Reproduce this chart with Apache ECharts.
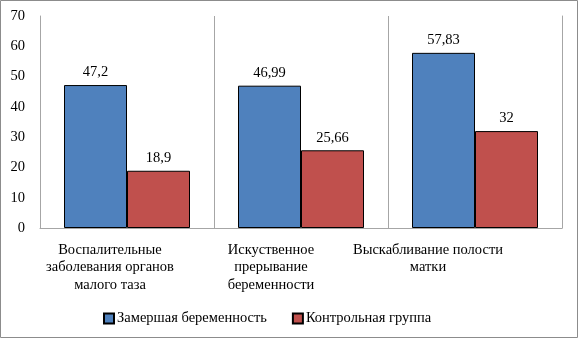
<!DOCTYPE html>
<html>
<head>
<meta charset="utf-8">
<script src="https://cdn.jsdelivr.net/npm/echarts@6/dist/echarts.min.js"></script>
<style>
  html, body { margin: 0; padding: 0; background: #fff; }
  #chart { width: 578px; height: 338px; }
</style>
</head>
<body>
<div id="chart"></div>
<script>
var categories = [
    'Воспалительные\nзаболевания органов\nмалого таза',
    'Искуственное\nпрерывание\nбеременности',
    'Выскабливание полости\nматки'
];
var seriesNames = ['Замершая беременность', 'Контрольная группа'];
var frozenValues = [47.2, 46.99, 57.83];
var controlValues = [18.9, 25.66, 32];

var font = '"Liberation Serif", "Times New Roman", serif';
var fs = 14.5;
// Excel pushed the wrapped labels a little to the left, more for each category
var labelShift = [34, 60, 94];

var myChart = echarts.init(document.getElementById('chart'), null, { renderer: 'canvas' });

var rich = {};
for (var i = 0; i < labelShift.length; i++) {
    rich['c' + i] = {
        fontFamily: font, fontSize: fs, color: '#000', lineHeight: 17.5,
        padding: [0, labelShift[i], 0, 0]
    };
}

function commaLabel(p) {
    return String(p.value).replace('.', ',');
}

var option = {
    animation: false,
    textStyle: { fontFamily: font },
    graphic: [{
        type: 'rect',
        shape: { x: 0.5, y: 0.5, width: 577, height: 337 },
        style: { fill: 'none', stroke: '#8c8c8c', lineWidth: 1 },
        silent: true
    }],
    grid: { left: 40, right: 16, top: 16, bottom: 110, containLabel: false, outerBoundsMode: 'none' },
    legend: {
        top: 306,
        left: 98,
        itemWidth: 10,
        itemHeight: 10,
        itemGap: 25,
        icon: 'rect',
        textStyle: { fontFamily: font, fontSize: fs, color: '#000', padding: [0, 0, 0, -2] },
        data: seriesNames
    },
    xAxis: {
        type: 'category',
        data: categories,
        axisLine: { lineStyle: { color: '#a6a6a6', width: 1 } },
        axisTick: { show: false },
        splitLine: { show: true, lineStyle: { color: '#a6a6a6', width: 1 } },
        axisLabel: {
            interval: 0,
            margin: 13,
            hideOverlap: false,
            formatter: function (val, idx) {
                return val.split('\n').map(function (s) {
                    return '{c' + idx + '|' + s + '}';
                }).join('\n');
            },
            rich: rich
        }
    },
    yAxis: [
        {
            type: 'value',
            min: 0,
            max: 70,
            interval: 10,
            axisLine: { show: true, lineStyle: { color: '#a6a6a6', width: 1 } },
            axisTick: { show: false },
            splitLine: { show: false },
            axisLabel: { fontFamily: font, fontSize: fs, color: '#000', margin: 15 }
        },
        {
            // right edge line of the plot area
            type: 'value',
            position: 'right',
            min: 0,
            max: 70,
            interval: 10,
            axisLine: { show: true, lineStyle: { color: '#a6a6a6', width: 1 } },
            axisTick: { show: false },
            axisLabel: { show: false },
            splitLine: { show: false }
        }
    ],
    series: [
        {
            name: seriesNames[0],
            type: 'bar',
            data: frozenValues,
            barWidth: 63,
            barGap: '0%',
            itemStyle: { color: '#4f81bd', borderColor: '#000', borderWidth: 1 },
            label: {
                show: true, position: 'top', distance: 5,
                fontFamily: font, fontSize: fs, color: '#000',
                formatter: commaLabel
            }
        },
        {
            name: seriesNames[1],
            type: 'bar',
            data: controlValues,
            barWidth: 63,
            barGap: '0%',
            itemStyle: { color: '#c0504d', borderColor: '#000', borderWidth: 1 },
            label: {
                show: true, position: 'top', distance: 5,
                fontFamily: font, fontSize: fs, color: '#000',
                formatter: commaLabel
            }
        }
    ]
};

myChart.setOption(option);
window.addEventListener('resize', function () {
    myChart.resize();
});
</script>
</body>
</html>
